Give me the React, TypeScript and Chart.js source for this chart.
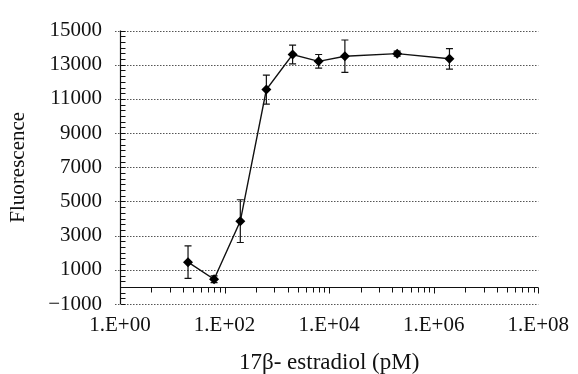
import React, { useEffect, useRef } from "react";
import { Chart, registerables } from "chart.js";

Chart.register(...registerables);

const concentrations = [20, 63, 200, 630, 2000, 6300, 20000, 200000, 2000000];
const fluorescence = [1450, 450, 3850, 11550, 13600, 13200, 13500, 13650, 13350];
const errors = [950, 200, 1250, 850, 550, 400, 950, 150, 600];
const xTickValues = [1, 100, 10000, 1000000, 100000000];
const minorMultipliers = [4, 9, 16, 25, 36, 49, 64, 81];
const yMin = -1000;
const yMax = 15000;
const yStep = 2000;

const FONT = "'Liberation Serif', 'Times New Roman', serif";

const framePlugin = {
  id: "frame",
  beforeDatasetsDraw(chart: any) {
    const { ctx, chartArea: a, scales } = chart;
    const x = scales.x;
    const y = scales.y;
    ctx.save();
    // dotted grid
    ctx.strokeStyle = "#555";
    ctx.lineWidth = 1;
    ctx.setLineDash([1.5, 1.5]);
    for (const t of y.ticks) {
      const py = Math.round(y.getPixelForValue(t.value)) + 0.5;
      ctx.beginPath();
      ctx.moveTo(a.left - 5, py);
      ctx.lineTo(a.right, py);
      ctx.stroke();
    }
    ctx.setLineDash([]);
    ctx.strokeStyle = "#111";
    ctx.lineWidth = 1.2;
    // y axis
    const lx = Math.round(a.left) + 0.5;
    ctx.beginPath();
    ctx.moveTo(lx, a.top);
    ctx.lineTo(lx, a.bottom);
    ctx.stroke();
    // y minor ticks
    ctx.lineWidth = 1;
    for (let v = yMin; v <= yMax + 1; v += yStep / 6) {
      const py = Math.round(y.getPixelForValue(v)) + 0.5;
      ctx.beginPath();
      ctx.moveTo(lx, py);
      ctx.lineTo(lx + 5, py);
      ctx.stroke();
    }
    // x axis at y = 0
    const y0 = Math.round(y.getPixelForValue(0)) + 0.5;
    ctx.lineWidth = 1.2;
    ctx.beginPath();
    ctx.moveTo(a.left, y0);
    ctx.lineTo(a.right, y0);
    ctx.stroke();
    ctx.lineWidth = 1;
    xTickValues.forEach((major, i) => {
      const pxM = Math.round(x.getPixelForValue(major)) + 0.5;
      ctx.beginPath();
      ctx.moveTo(pxM, y0);
      ctx.lineTo(pxM, y0 + 6);
      ctx.stroke();
      if (i === xTickValues.length - 1) return;
      minorMultipliers.forEach((m) => {
        const px = Math.round(x.getPixelForValue(major * m)) + 0.5;
        ctx.beginPath();
        ctx.moveTo(px, y0);
        ctx.lineTo(px, y0 + 5);
        ctx.stroke();
      });
    });
    // error bars
    ctx.strokeStyle = "#111";
    ctx.lineWidth = 1.2;
    concentrations.forEach((c, i) => {
      const px = x.getPixelForValue(c);
      const top = y.getPixelForValue(fluorescence[i] + errors[i]);
      const bot = y.getPixelForValue(fluorescence[i] - errors[i]);
      ctx.beginPath();
      ctx.moveTo(px, top);
      ctx.lineTo(px, bot);
      ctx.moveTo(px - 3.5, top);
      ctx.lineTo(px + 3.5, top);
      ctx.moveTo(px - 3.5, bot);
      ctx.lineTo(px + 3.5, bot);
      ctx.stroke();
    });
    ctx.restore();
  },
};

export default function App() {
  const ref = useRef<HTMLCanvasElement>(null);
  useEffect(() => {
    document.body.style.margin = "0";
    const chart = new Chart(ref.current as HTMLCanvasElement, {
      type: "line",
      data: {
        datasets: [
          {
            data: concentrations.map((c, i) => ({ x: c, y: fluorescence[i] })),
            borderColor: "#111",
            borderWidth: 1.4,
            backgroundColor: "#000",
            pointStyle: "rectRot",
            pointRadius: 5,
            pointBorderWidth: 0,
            tension: 0,
          },
        ],
      },
      options: {
        responsive: false,
        animation: false,
        layout: { padding: { left: 0, right: 36, top: 25, bottom: 0 } },
        plugins: { legend: { display: false }, tooltip: { enabled: false } },
        scales: {
          x: {
            type: "logarithmic",
            min: 1,
            max: 1e8,
            grid: { display: false, drawTicks: false },
            border: { display: false },
            afterBuildTicks: (s: any) => {
              s.ticks = xTickValues.map((v) => ({ value: v }));
            },
            afterFit: (s: any) => {
              s.height = 70;
            },
            ticks: {
              autoSkip: false,
              maxRotation: 0,
              padding: 9,
              color: "#111",
              font: { family: FONT, size: 21 },
              callback: (v: any) =>
                "1.E+" + String(Math.round(Math.log10(Number(v)))).padStart(2, "0"),
            },
            title: {
              display: true,
              text: "17β- estradiol (pM)",
              color: "#111",
              font: { family: FONT, size: 23 },
              padding: { top: 0, bottom: -3 },
            },
          },
          y: {
            min: yMin,
            max: yMax,
            grid: { display: false, drawTicks: false },
            border: { display: false },
            afterFit: (s: any) => {
              s.width = 120;
            },
            ticks: {
              stepSize: yStep,
              padding: 18,
              color: "#111",
              font: { family: FONT, size: 21 },
              callback: (v: any) => String(v).replace("-", "−"),
            },
            title: {
              display: true,
              text: "Fluorescence",
              color: "#111",
              font: { family: FONT, size: 21 },
              padding: { top: 6, bottom: 0 },
            },
          },
        },
      },
      plugins: [framePlugin],
    });
    return () => chart.destroy();
  }, []);
  return <canvas ref={ref} width={578} height={374} />;
}
